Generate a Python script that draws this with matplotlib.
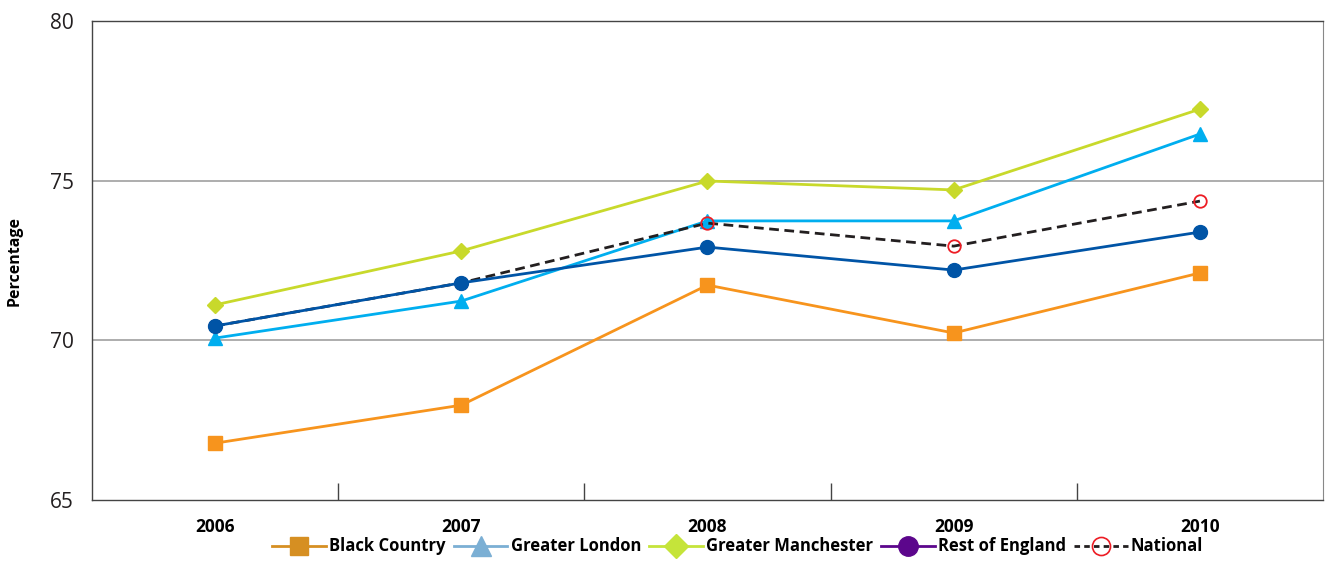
import matplotlib.pyplot as plt
from matplotlib.lines import Line2D

years = ['2006', '2007', '2008', '2009', '2010']
black_country = [66.78, 67.97, 71.73, 70.23, 72.11]
greater_london = [70.07, 71.23, 73.74, 73.74, 76.46]
greater_manchester = [71.11, 72.8, 74.99, 74.71, 77.24]
rest_of_england = [70.45, 71.8, 72.92, 72.2, 73.39]
national = [70.45, 71.8, 73.67, 72.95, 74.36]

plt.rcParams['font.family'] = ['Open Sans', 'DejaVu Sans']

fig = plt.figure(figsize=(13.27, 5.61), dpi=100)
ax = fig.add_axes([0.0693, 0.1087, 0.9277, 0.8539])

x = range(len(years))
ax.plot(x, black_country, color='#F7941D', lw=2, marker='s', ms=10, zorder=3)
ax.plot(x, greater_london, color='#00AEEF', lw=2, marker='^', ms=10, zorder=3)
ax.plot(x, greater_manchester, color='#C8D92B', lw=2, marker='D', ms=8, zorder=3)
ax.plot(x, national, color='#231F20', lw=2, ls=(0, (3.5, 2)), marker='o', ms=9,
        mfc='none', mec='#ED1C24', mew=1.3, zorder=4)
ax.plot(x, rest_of_england, color='#0054A6', lw=2, marker='o', ms=10, zorder=5)

ax.set_xlim(-0.5, 4.5)
ax.set_ylim(65, 80)
ax.set_yticks([65, 70, 75, 80])
ax.tick_params(axis='y', length=0, pad=13, labelsize=15, colors='#231F20')
for yv in [70, 75]:
    ax.axhline(yv, color='#A0A0A0', lw=1.2, zorder=1)

ax.set_xticks([0.5, 1.5, 2.5, 3.5])
ax.set_xticklabels([])
ax.tick_params(axis='x', which='major', direction='in', length=12, width=1, color='#444444')
ax.set_xticks(list(x), minor=True)
ax.set_xticklabels(years, minor=True, fontweight='bold', fontsize=12.5)
ax.tick_params(axis='x', which='minor', length=0, pad=13)

for s in ['left', 'bottom', 'top']:
    ax.spines[s].set_color('#444444')
    ax.spines[s].set_linewidth(1)
ax.spines['right'].set_color('#888888')
ax.spines['right'].set_linewidth(0.8)

ax.set_ylabel('Percentage', fontweight='bold', fontsize=11.5, labelpad=20)

handles = [
    Line2D([], [], color='#D68F22', lw=2, marker='s', ms=13),
    Line2D([], [], color='#7BAFD4', lw=2, marker='^', ms=14),
    Line2D([], [], color='#C5E43A', lw=2, marker='D', ms=12),
    Line2D([], [], color='#5C068C', lw=2, marker='o', ms=14),
    Line2D([], [], color='#231F20', lw=2, ls=(0, (2, 1.5)), marker='o', ms=13,
           mfc='none', mec='#ED1C24', mew=1.2),
]
labels = ['Black Country', 'Greater London', 'Greater Manchester', 'Rest of England', 'National']
leg = fig.legend(handles, labels, loc='center', bbox_to_anchor=(0.556, 0.026), ncol=5,
                 frameon=False, prop={'weight': 'bold', 'size': 12},
                 handlelength=3.2, handletextpad=0.2, columnspacing=0.5)

fig.savefig('out.png', dpi=100)
